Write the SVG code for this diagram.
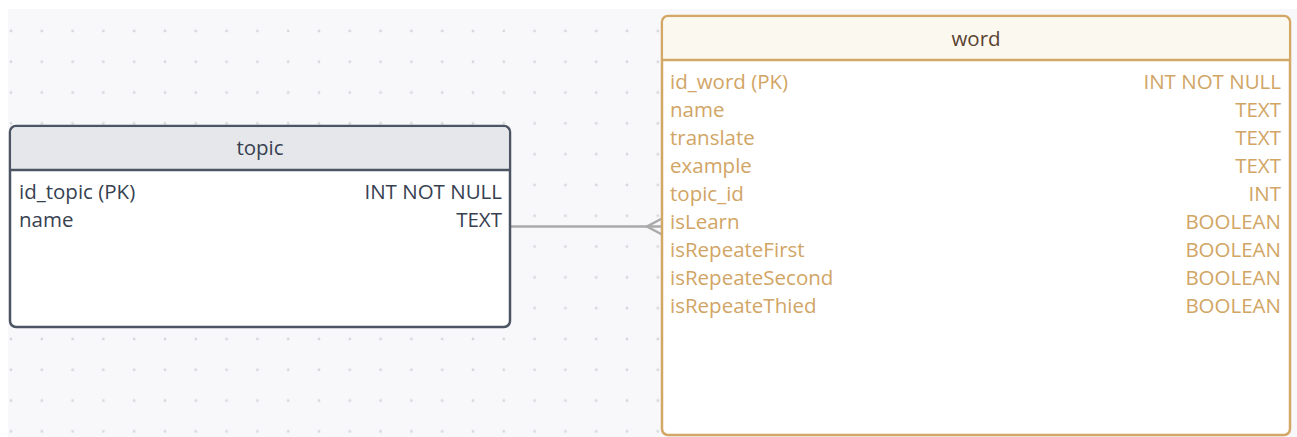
<svg xmlns="http://www.w3.org/2000/svg" width="1297" height="437" viewBox="0 0 1297 437">
  <defs>
    <pattern id="dots" x="11" y="31" width="30.8" height="30.8" patternUnits="userSpaceOnUse">
      <circle cx="0" cy="0" r="1.4" fill="#d6d8de"/>
      <circle cx="30.8" cy="0" r="1.4" fill="#d6d8de"/>
      <circle cx="0" cy="30.8" r="1.4" fill="#d6d8de"/>
      <circle cx="30.8" cy="30.8" r="1.4" fill="#d6d8de"/>
    </pattern>
    <style>
      text { font-family: "Open Sans", "Noto Sans", sans-serif; font-size: 20.5px; }
      .topic-frame { fill: #ffffff; stroke: #4b5563; stroke-width: 2.5; }
      .topic-head { fill: #e5e7eb; }
      .topic-text { fill: #374151; }
      .word-frame { fill: #ffffff; stroke: #d3a766; stroke-width: 2.5; }
      .word-head { fill: #fbf8f0; }
      .word-title { fill: #5a4330; }
      .word-text { fill: #d1a565; }
      .right { text-anchor: end; }
      .mid { text-anchor: middle; }
      .link { fill: none; stroke: #aaaaaa; stroke-width: 2.5; }
    </style>
  </defs>

  <!-- canvas -->
  <rect x="0" y="0" width="1297" height="437" fill="#ffffff"/>
  <rect x="8" y="9" width="1289" height="428" fill="#f8f8fa"/>
  <rect x="8" y="9" width="1289" height="428" fill="url(#dots)"/>

  <!-- relationship: topic 1 — many word -->
  <g id="connectors">
    <line class="link" x1="510" y1="226.5" x2="662" y2="226.5"/>
    <polyline class="link" points="662,218.5 647,226.5 662,234.5"/>
  </g>

  <!-- table: topic -->
  <g id="topic">
    <rect class="topic-frame" x="10" y="126" width="500" height="201" rx="6"/>
    <path class="topic-head" d="M16,127.3 H504 A4.7,4.7 0 0 1 508.7,132 V169 H11.3 V132 A4.7,4.7 0 0 1 16,127.3 Z"/>
    <line x1="10" y1="170" x2="510" y2="170" stroke="#4b5563" stroke-width="2.5"/>
    <text class="topic-text mid" x="260" y="155">topic</text>
    <text class="topic-text" x="19" y="198.5">id_topic (PK)</text>
    <text class="topic-text right" x="502" y="198.5">INT NOT NULL</text>
    <text class="topic-text" x="19" y="226.5">name</text>
    <text class="topic-text right" x="502" y="226.5">TEXT</text>
  </g>

  <!-- table: word -->
  <g id="word">
    <rect class="word-frame" x="662" y="16" width="628" height="419" rx="6"/>
    <path class="word-head" d="M668,17.3 H1284 A4.7,4.7 0 0 1 1288.7,22 V59 H663.3 V22 A4.7,4.7 0 0 1 668,17.3 Z"/>
    <line x1="662" y1="60" x2="1290" y2="60" stroke="#d3a766" stroke-width="2.5"/>
    <text class="word-title mid" x="976" y="45.5">word</text>
    <text class="word-text" x="670" y="88.5">id_word (PK)</text>
    <text class="word-text right" x="1281" y="88.5">INT NOT NULL</text>
    <text class="word-text" x="670" y="116.5">name</text>
    <text class="word-text right" x="1281" y="116.5">TEXT</text>
    <text class="word-text" x="670" y="144.5">translate</text>
    <text class="word-text right" x="1281" y="144.5">TEXT</text>
    <text class="word-text" x="670" y="172.5">example</text>
    <text class="word-text right" x="1281" y="172.5">TEXT</text>
    <text class="word-text" x="670" y="200.5">topic_id</text>
    <text class="word-text right" x="1281" y="200.5">INT</text>
    <text class="word-text" x="670" y="228.5">isLearn</text>
    <text class="word-text right" x="1281" y="228.5">BOOLEAN</text>
    <text class="word-text" x="670" y="256.5">isRepeateFirst</text>
    <text class="word-text right" x="1281" y="256.5">BOOLEAN</text>
    <text class="word-text" x="670" y="284.5">isRepeateSecond</text>
    <text class="word-text right" x="1281" y="284.5">BOOLEAN</text>
    <text class="word-text" x="670" y="312.5">isRepeateThied</text>
    <text class="word-text right" x="1281" y="312.5">BOOLEAN</text>
  </g>
</svg>
